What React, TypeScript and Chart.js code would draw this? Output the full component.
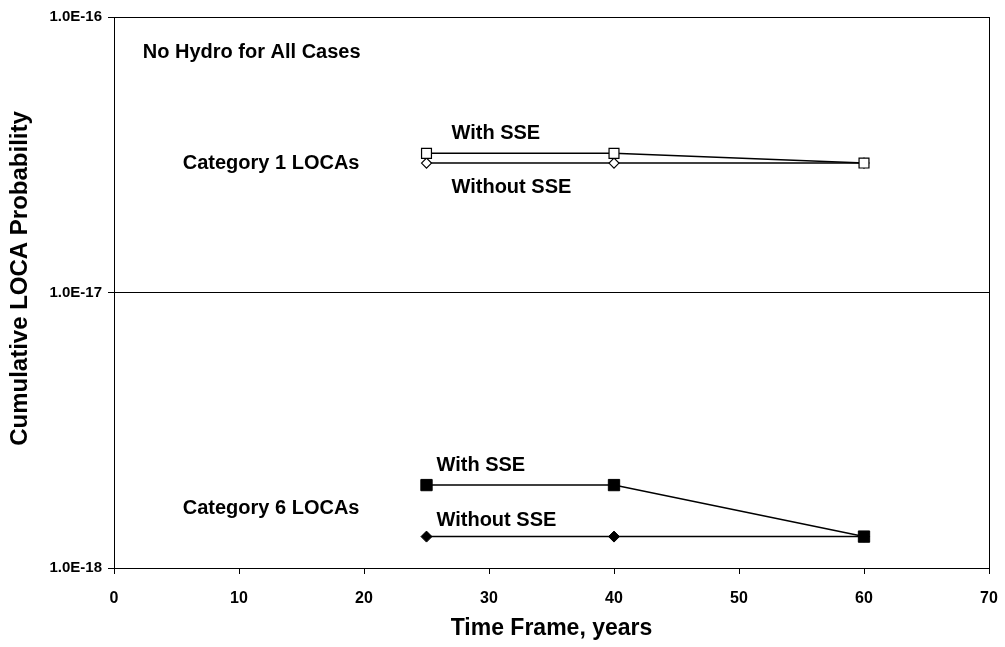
import React, { useEffect, useRef } from "react";
import { Chart, registerables } from "chart.js";

Chart.register(...registerables);

const FONT = "'Liberation Sans', Arial, Helvetica, sans-serif";

// Time frames (years)
const years = [25, 40, 60];

// Category 1 LOCAs
const cat1WithSSE = [3.2e-17, 3.2e-17, 2.95e-17];
const cat1WithoutSSE = [2.95e-17, 2.95e-17, 2.95e-17];

// Category 6 LOCAs
const cat6WithSSE = [2.0e-18, 2.0e-18, 1.3e-18];
const cat6WithoutSSE = [1.3e-18, 1.3e-18, 1.3e-18];

const yTicks = [1e-18, 1e-17, 1e-16];
const xMin = 0;
const xMax = 70;
const xStep = 10;

const yTitle = "Cumulative LOCA Probability";
const xTitle = "Time Frame, years";

// Text notes placed in data coordinates
const notes = [
  { text: "No Hydro for All Cases", x: 2.3, y: 7.45e-17 },
  { text: "Category 1 LOCAs", x: 5.5, y: 2.95e-17 },
  { text: "With SSE", x: 27.0, y: 3.79e-17 },
  { text: "Without SSE", x: 27.0, y: 2.41e-17 },
  { text: "Category 6 LOCAs", x: 5.5, y: 1.64e-18 },
  { text: "With SSE", x: 25.8, y: 2.35e-18 },
  { text: "Without SSE", x: 25.8, y: 1.49e-18 },
];

const toPts = (vals: number[]) => vals.map((v, i) => ({ x: years[i], y: v }));

export default function App() {
  const ref = useRef<HTMLCanvasElement | null>(null);

  useEffect(() => {
    if (!ref.current) return;

    const boxPlugin = {
      id: "boxAndNotes",
      afterDraw(chart: any) {
        const { ctx, chartArea, scales } = chart;
        ctx.save();
        ctx.strokeStyle = "#000";
        ctx.lineWidth = 1;
        ctx.strokeRect(
          Math.round(chartArea.left) + 0.5,
          Math.round(chartArea.top) + 0.5,
          Math.round(chartArea.right - chartArea.left),
          Math.round(chartArea.bottom - chartArea.top)
        );
        ctx.fillStyle = "#000";
        ctx.font = `bold 20px ${FONT}`;
        ctx.textAlign = "left";
        ctx.textBaseline = "middle";
        notes.forEach((n) => {
          ctx.fillText(n.text, scales.x.getPixelForValue(n.x), scales.y.getPixelForValue(n.y));
        });
        // y axis title
        ctx.save();
        ctx.translate(20, (chartArea.top + chartArea.bottom) / 2 - 14);
        ctx.rotate(-Math.PI / 2);
        ctx.font = `bold 24px ${FONT}`;
        ctx.textAlign = "center";
        ctx.textBaseline = "middle";
        ctx.fillText(yTitle, 0, 0);
        ctx.restore();
        ctx.restore();
      },
    };

    const chart = new Chart(ref.current, {
      type: "line",
      data: {
        datasets: [
          {
            label: "Category 1 With SSE",
            data: toPts(cat1WithSSE),
            borderColor: "#000",
            borderWidth: 1.5,
            pointStyle: "rect",
            pointRadius: 7,
            pointBackgroundColor: "#fff",
            pointBorderColor: "#000",
            pointBorderWidth: 1.2,
          },
          {
            label: "Category 1 Without SSE",
            data: toPts(cat1WithoutSSE),
            borderColor: "#000",
            borderWidth: 1.5,
            pointStyle: "rectRot",
            pointRadius: 5,
            pointBackgroundColor: "#fff",
            pointBorderColor: "#000",
            pointBorderWidth: 1.2,
          },
          {
            label: "Category 6 With SSE",
            data: toPts(cat6WithSSE),
            borderColor: "#000",
            borderWidth: 1.5,
            pointStyle: "rect",
            pointRadius: 8,
            pointBackgroundColor: "#000",
            pointBorderColor: "#000",
            pointBorderWidth: 1,
          },
          {
            label: "Category 6 Without SSE",
            data: toPts(cat6WithoutSSE),
            borderColor: "#000",
            borderWidth: 1.5,
            pointStyle: "rectRot",
            pointRadius: 5.5,
            pointBackgroundColor: "#000",
            pointBorderColor: "#000",
            pointBorderWidth: 1,
          },
        ],
      },
      options: {
        animation: false,
        responsive: false,
        devicePixelRatio: 1,
        layout: { padding: { top: 17, right: 16, left: 0, bottom: 0 } },
        plugins: {
          legend: { display: false },
          tooltip: { enabled: false },
        },
        scales: {
          x: {
            type: "linear",
            min: xMin,
            max: xMax,
            ticks: {
              stepSize: xStep,
              color: "#000",
              padding: 15,
              maxRotation: 0,
              font: { family: FONT, size: 16, weight: "bold" },
            },
            grid: {
              drawOnChartArea: false,
              drawTicks: true,
              tickLength: 6,
              color: "#000",
            },
            border: { color: "#000", width: 1 },
            title: {
              display: true,
              text: xTitle,
              color: "#000",
              font: { family: FONT, size: 23, weight: "bold" },
              padding: { top: 0, bottom: 5 },
            },
            afterFit: (s: any) => {
              s.height = 79;
              s.paddingLeft = 0;
              s.paddingRight = 0;
            },
          },
          y: {
            type: "logarithmic",
            min: yTicks[0],
            max: yTicks[yTicks.length - 1],
            afterBuildTicks: (s: any) => {
              s.ticks = yTicks.map((v) => ({ value: v }));
            },
            ticks: {
              color: "#000",
              padding: 6,
              font: { family: FONT, size: 15, weight: "bold" },
              callback: (v: any) => Number(v).toExponential(1).toUpperCase(),
            },
            grid: {
              color: "#000",
              lineWidth: 1,
              drawTicks: true,
              tickLength: 6,
            },
            border: { color: "#000", width: 1 },
            afterFit: (s: any) => {
              s.width = 114;
              s.paddingTop = 0;
              s.paddingBottom = 0;
            },
          },
        },
      },
      plugins: [boxPlugin],
    } as any);

    return () => chart.destroy();
  }, []);

  return (
    <div style={{ position: "fixed", left: 0, top: 0, width: 1005, height: 647, background: "#fff" }}>
      <canvas ref={ref} width={1005} height={647} style={{ width: 1005, height: 647 }} />
    </div>
  );
}
